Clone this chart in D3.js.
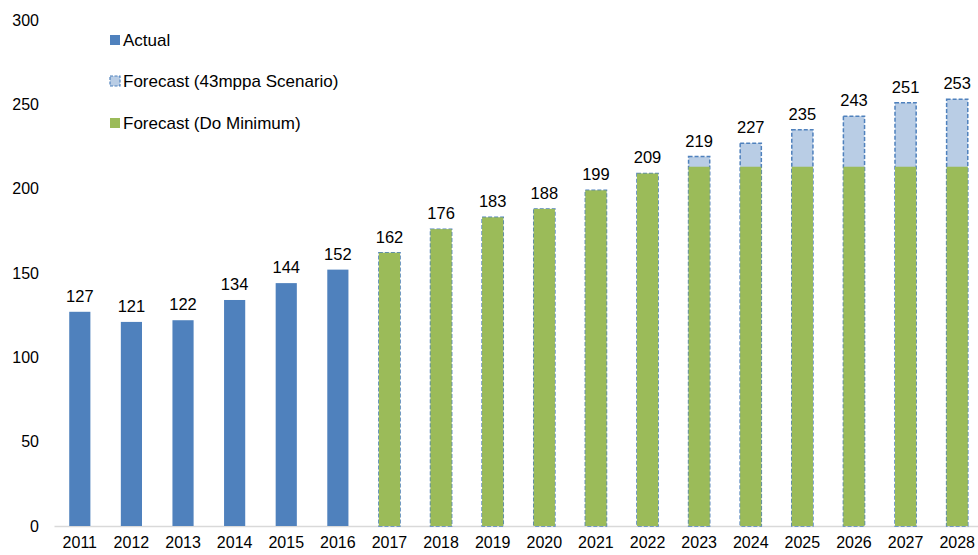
<!DOCTYPE html>
<html>
<head>
<meta charset="utf-8">
<script src="https://cdn.jsdelivr.net/npm/d3@7"></script>
<style>
  body { margin: 0; background: #fff; }
  svg text { font-family: "Liberation Sans", Arial, sans-serif; fill: #000; }
</style>
</head>
<body>
<div id="chart"></div>
<script>
// data
var years = ["2011","2012","2013","2014","2015","2016","2017","2018","2019","2020",
             "2021","2022","2023","2024","2025","2026","2027","2028"];
var actualYears = ["2011","2012","2013","2014","2015","2016"];
var actual = [127, 121, 122, 134, 144, 152];
var forecastYears = ["2017","2018","2019","2020","2021","2022","2023","2024","2025","2026","2027","2028"];
var forecast43 = [162, 176, 183, 188, 199, 209, 219, 227, 235, 243, 251, 253];
var doMinimum = [162, 176, 183, 188, 199, 209, 213, 213, 213, 213, 213, 213];
var yTicks = [0, 50, 100, 150, 200, 250, 300];
var legendItems = ["Actual", "Forecast (43mppa Scenario)", "Forecast (Do Minimum)"];

var W = 978, H = 555;
var margin = {top: 20, right: 0, bottom: 29, left: 54};
var width = 929, height = H - margin.top - margin.bottom;

var svg = d3.select("#chart").append("svg")
    .attr("width", W)
    .attr("height", H);

var x = d3.scaleBand().domain(years).range([0, width]).paddingInner(0.59).paddingOuter(0.295);
var y = d3.scaleLinear().domain([0, 300]).range([height, 0]);

var g = svg.append("g").attr("transform", "translate(" + margin.left + "," + margin.top + ")");

// axes
var xAxis = g.append("g")
    .attr("transform", "translate(0," + height + ")")
    .call(d3.axisBottom(x).tickSize(0).tickPadding(11));
xAxis.select(".domain").attr("stroke", "#d9d9d9").attr("stroke-width", 1.5);
xAxis.selectAll("text").style("font-size", "16px");

var yAxis = g.append("g")
    .call(d3.axisLeft(y).tickValues(yTicks).tickSize(0).tickPadding(15));
yAxis.select(".domain").remove();
yAxis.selectAll("text").style("font-size", "16px");

var colActual = "#4f81bd", colGreen = "#9bbb59", colLight = "#b9cde5";

// actual bars
var act = actualYears.map(function(d, i){ return {year: d, v: actual[i]}; });
g.selectAll(".actual").data(act).enter().append("rect")
    .attr("class", "actual")
    .attr("x", function(d){ return x(d.year); })
    .attr("y", function(d){ return y(d.v); })
    .attr("width", x.bandwidth())
    .attr("height", function(d){ return height - y(d.v); })
    .attr("fill", colActual);

// forecast bars (43mppa behind, do minimum in front)
var fc = forecastYears.map(function(d, i){ return {year: d, v: forecast43[i], m: doMinimum[i]}; });
g.selectAll(".f43").data(fc).enter().append("rect")
    .attr("class", "f43")
    .attr("x", function(d){ return x(d.year); })
    .attr("y", function(d){ return y(d.v); })
    .attr("width", x.bandwidth())
    .attr("height", function(d){ return height - y(d.v); })
    .attr("fill", colLight)
    .attr("stroke", colActual)
    .attr("stroke-width", 1.5)
    .attr("stroke-dasharray", "4,2");
g.selectAll(".fmin").data(fc).enter().append("rect")
    .attr("class", "fmin")
    .attr("x", function(d){ return x(d.year); })
    .attr("y", function(d){ return y(d.m); })
    .attr("width", x.bandwidth())
    .attr("height", function(d){ return height - y(d.m); })
    .attr("fill", colGreen);

// value labels
var labels = act.concat(fc);
g.selectAll(".val").data(labels).enter().append("text")
    .attr("class", "val")
    .attr("x", function(d){ return x(d.year) + x.bandwidth() / 2; })
    .attr("y", function(d){ return y(d.v) - 10; })
    .attr("text-anchor", "middle")
    .style("font-size", "16.5px")
    .text(function(d){ return d.v; });

// legend
var legend = svg.append("g").attr("transform", "translate(110,0)");
var legY = [40, 81, 123];
legendItems.forEach(function(name, i){
    var r = legend.append("rect")
        .attr("x", 0).attr("y", legY[i] - 5)
        .attr("width", 10).attr("height", 10);
    if (i === 0) r.attr("fill", colActual);
    if (i === 1) r.attr("fill", colLight).attr("stroke", colActual).attr("stroke-width", 1.2).attr("stroke-dasharray", "3,1.5");
    if (i === 2) r.attr("fill", colGreen);
    legend.append("text")
        .attr("x", 13).attr("y", legY[i] + 6)
        .style("font-size", "17px")
        .text(name);
});
</script>
</body>
</html>
